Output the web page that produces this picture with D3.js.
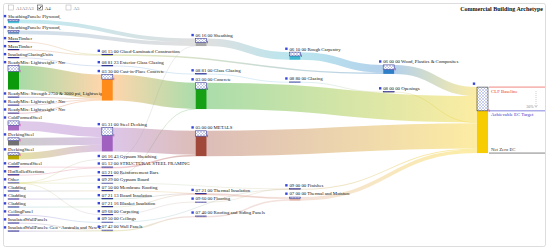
<!DOCTYPE html>
<html>
<head>
<meta charset="utf-8">
<script src="https://cdn.jsdelivr.net/npm/d3@7"></script>
<style>
  body { margin: 0; background: #fff; }
  svg { display: block; font-family: "Liberation Serif", "Times New Roman", serif; }
</style>
</head>
<body>
<svg width="550" height="252"></svg>
<script>
// ---- Data
const title = "Commercial Building Archetype";
const stageLabels = ["A1A2A3", "A4", "A5"];
const stageChecked = [false, true, false];
const targetLabels = ["CLF Baseline", "Achievable EC Target", "Net Zero EC"];
const reductionLabel = "30%";

const nodeNames = [
  "SheathingPanels: Plywood,", "SheathingPanels: Plywood,", "MassTimber", "MassTimber",
  "InsulatingGlazingUnits", "ReadyMix: Lightweight - Nrc", "ReadyMix: Strength 2750 & 3000 psi, Lightweig",
  "ReadyMix: Lightweight - Nrc", "ReadyMix: Lightweight - Nrc", "ColdFormedSteel", "DeckingSteel",
  "DeckingSteel", "ColdFormedSteel", "HotRolledSections", "Other", "Cladding", "Cladding", "Cladding",
  "CeilingPanel", "InsulatedWallPanels", "InsulatedWallPanels: Geo - Australia and New Z",
  "06 15 00 Glued-Laminated Construction", "08 81 23 Exterior Glass Glazing", "03 30 00 Cast-in-Place Concrete",
  "05 31 00 Steel Decking", "06 16 43 Gypsum Sheathing", "05 12 00 STRUCTURAL STEEL FRAMING",
  "03 21 00 Reinforcement Bars", "09 29 00 Gypsum Board", "07 50 00 Membrane Roofing",
  "07 21 13 Board Insulation", "07 21 16 Blanket Insulation", "09 68 00 Carpeting", "09 50 00 Ceilings",
  "07 42 00 Wall Panels",
  "06 16 00 Sheathing", "08 81 00 Glass Glazing", "03 00 00 Concrete", "05 00 00 METALS",
  "07 21 00 Thermal Insulation", "09 60 00 Flooring", "07 40 00 Roofing and Siding Panels",
  "06 10 00 Rough Carpentry", "08 80 00 Glazing", "09 00 00 Finishes", "07 00 00 Thermal and Moisture",
  "06 00 00 Wood, Plastics & Composites", "08 00 00 Openings",
  ""
];
const nodeColumns = [
  0, 0, 0, 0, 0, 0, 0, 0, 0, 0, 0, 0, 0, 0, 0, 0, 0, 0, 0, 0, 0,
  1, 1, 1, 1, 1, 1, 1, 1, 1, 1, 1, 1, 1, 1,
  2, 2, 2, 2, 2, 2, 2,
  3, 3, 3, 3,
  4, 4,
  5
];
const nodeColors = [
  "#4cc3d6", "#7da6c8", "#e27a62", "#d9574f", "#8a8ac8", "#0b9a0b", "#1e2a8a", "#7a4fa0", "#8b1a4a",
  "#a66cc4", "#707070", "#b5a800", "#d06080", "#c05070", "#c8c830", "#4f6fc0", "#8040c0", "#50a0c0",
  "#7040b0", "#6050b0", "#5040a0",
  "#b8c040", "#5a8fd0", "#ff8c1a", "#a060c0", "#a0a0a0", "#e07090", "#d09090", "#90c090", "#e0b050",
  "#50b890", "#a0cc70", "#b090d0", "#70b8d8", "#c8c870",
  "#a8a8a8", "#6ab0d8", "#15a015", "#a0483a", "#d08080", "#c0a070", "#d0a0a0",
  "#3fb8d0", "#70c0d8", "#c8b080", "#e0b0a0",
  "#2f7fc8", "#c8c060",
  "#f7cc00"
];
// share of each node drawn hatched (reduction)
const nodeHatch = [
  0.4, 0.4, 0.4, 0.4, 0.4, 0.24, 0.4, 0.4, 0.4, 0.45, 0.35, 0.35, 0.4, 0.4, 0.4, 0.4, 0.4, 0.4, 0.4, 0.4, 0.4,
  0.4, 0.4, 0.18, 0.33, 0.4, 0.4, 0.4, 0.4, 0.4, 0.4, 0.4, 0.4, 0.4, 0.4,
  0.5, 0.4, 0.24, 0.21, 0.4, 0.4, 0.4,
  0.5, 0.4, 0.4, 0.4,
  0.5, 0.4,
  0.36
];

const linkSources = [
  0, 1, 2, 3, 4, 5, 6, 7, 8, 9, 10, 11, 12, 13, 14, 14, 14, 14, 15, 16, 17, 18, 19, 20,
  21, 22, 23, 24, 25, 26, 27, 28, 29, 30, 31, 32, 33, 34,
  35, 36, 37, 38, 39, 40, 41,
  42, 43, 44, 45,
  46, 47
];
const linkTargets = [
  35, 35, 21, 21, 22, 23, 23, 23, 23, 24, 24, 24, 26, 26, 25, 27, 28, 32, 29, 30, 31, 33, 34, 34,
  46, 36, 37, 38, 35, 38, 37, 44, 45, 39, 39, 40, 44, 41,
  42, 43, 48, 48, 45, 44, 45,
  46, 47, 48, 48,
  48, 48
];
const linkValues = [
  3.4, 3.4, 0.65, 0.65, 0.65, 22, 0.65, 0.65, 0.65, 8.8, 7, 6.1, 0.65, 0.65, 0.16, 0.16, 0.16, 0.17, 0.65, 0.65, 0.65, 0.65, 0.65, 0.65,
  1.3, 0.65, 23.95, 21.9, 0.16, 1.3, 0.16, 0.16, 0.65, 0.65, 0.65, 0.17, 0.65, 1.3,
  6.96, 0.65, 24.1, 23.2, 1.3, 0.17, 1.3,
  6.96, 0.65, 0.98, 3.25,
  8.26, 0.65
];

// ---- Layout (sankey relaxation, nodes kept in input order)
const extent = { top: 19.5, bottom: 231.5 };
const nodeWidth = 11, gap = 7.3, iterations = 32;

const nodes = nodeNames.map((name, i) => ({
  index: i, name, column: nodeColumns[i], color: nodeColors[i], hatch: nodeHatch[i],
  sourceLinks: [], targetLinks: []
}));
const links = linkValues.map((v, i) => ({ source: nodes[linkSources[i]], target: nodes[linkTargets[i]], value: v }));
links.forEach(l => { l.source.sourceLinks.push(l); l.target.targetLinks.push(l); });
nodes.forEach(n => n.value = Math.max(d3.sum(n.sourceLinks, l => l.value), d3.sum(n.targetLinks, l => l.value)));

const x = d3.scalePoint().domain(d3.range(6)).range([8, 477]);
nodes.forEach(n => { n.x0 = x(n.column); n.x1 = n.x0 + nodeWidth; });

const columns = d3.groups(nodes, n => n.column).sort((a, b) => a[0] - b[0]).map(d => d[1]);
const ky = d3.min(columns, c => (extent.bottom - extent.top - (c.length - 1) * gap) / d3.sum(c, n => n.value));
const size = d3.scaleLinear().domain([0, 1]).range([0, ky]);
nodes.forEach(n => { n.dy = size(n.value); n.y0 = extent.top; });
links.forEach(l => l.width = size(l.value));

const centre = n => n.y0 + n.dy / 2;
function resolveCollisions() {
  for (const col of columns) {
    let y = extent.top, last;
    for (const n of col) {
      if (y - n.y0 > 0) n.y0 = y;
      y = n.y0 + n.dy + gap;
      last = n;
    }
    let over = y - gap - extent.bottom;
    if (over > 0) {
      last.y0 -= over;
      y = last.y0;
      for (let i = col.length - 2; i >= 0; --i) {
        const n = col[i];
        over = n.y0 + n.dy + gap - y;
        if (over > 0) n.y0 -= over;
        y = n.y0;
      }
    }
  }
}
// move each node toward the centre of its targets (right-to-left) or sources (left-to-right),
// weighted by value times the number of columns the link spans
function relaxRightToLeft(alpha) {
  for (const col of columns.slice().reverse()) {
    for (const n of col) {
      if (!n.sourceLinks.length) continue;
      let s = 0, w = 0;
      for (const l of n.sourceLinks) { const k = l.value * (l.target.column - n.column); s += centre(l.target) * k; w += k; }
      n.y0 += (s / w - centre(n)) * alpha;
    }
  }
}
function relaxLeftToRight(alpha) {
  for (const col of columns) {
    for (const n of col) {
      if (!n.targetLinks.length) continue;
      let s = 0, w = 0;
      for (const l of n.targetLinks) { const k = l.value * (n.column - l.source.column); s += centre(l.source) * k; w += k; }
      n.y0 += (s / w - centre(n)) * alpha;
    }
  }
}
resolveCollisions();
for (let k = 0, alpha = 1; k < iterations; ++k) {
  alpha *= 0.99;
  relaxRightToLeft(alpha);
  resolveCollisions();
  relaxLeftToRight(alpha);
  resolveCollisions();
}
nodes.forEach(n => n.y1 = n.y0 + n.dy);
for (const n of nodes) {
  n.sourceLinks.sort((a, b) => a.target.y0 - b.target.y0);
  n.targetLinks.sort((a, b) => a.source.y0 - b.source.y0);
  let a = n.y0, b = n.y0;
  for (const l of n.sourceLinks) { l.y0 = a + l.width / 2; a += l.width; }
  for (const l of n.targetLinks) { l.y1 = b + l.width / 2; b += l.width; }
}

// ---- Drawing
const svg = d3.select('svg');
const defs = svg.append('defs');

const pat = defs.append('pattern').attr('id', 'hatch')
  .attr('patternUnits', 'userSpaceOnUse').attr('width', 3).attr('height', 3);
pat.append('rect').attr('width', 3).attr('height', 3).attr('fill', '#fff');
pat.append('path').attr('d', 'M0,0L3,3M3,0L0,3').attr('stroke', '#8d9bd6').attr('stroke-width', 0.45);

// frame
svg.append('rect').attr('x', 3.5).attr('y', 3.5).attr('width', 542).attr('height', 243)
  .attr('rx', 2).attr('fill', 'none').attr('stroke', '#d4d4d4').attr('stroke-width', 0.8);

// legend
const lx = d3.scalePoint().domain(stageLabels).range([8.5, 66]);
const legend = svg.append('g').selectAll('g').data(stageLabels).join('g')
  .attr('transform', d => `translate(${lx(d)},5)`);
legend.append('rect').attr('width', 5).attr('height', 5).attr('fill', '#fff')
  .attr('stroke', (d, i) => stageChecked[i] ? '#333' : '#aaa').attr('stroke-width', 0.5);
legend.filter((d, i) => stageChecked[i]).append('path')
  .attr('d', 'M1,2.6L2.2,3.9L4.2,1.1').attr('fill', 'none').attr('stroke', '#222').attr('stroke-width', 0.9);
legend.append('text').attr('x', 7.5).attr('y', 4.6).attr('font-size', 4.8)
  .attr('fill', (d, i) => stageChecked[i] ? '#333' : '#777').text(d => d);

// title
svg.append('text').attr('x', 543).attr('y', 11).attr('text-anchor', 'end')
  .attr('font-size', 6).attr('font-weight', 'bold').attr('fill', '#111').text(title);

// links
const grad = defs.selectAll('linearGradient').data(links).join('linearGradient')
  .attr('id', (d, i) => 'lg' + i).attr('gradientUnits', 'userSpaceOnUse')
  .attr('x1', d => d.source.x1).attr('x2', d => d.target.x0).attr('y1', 0).attr('y2', 0);
grad.append('stop').attr('offset', '0%').attr('stop-color', d => d.source.color);
grad.append('stop').attr('offset', '100%').attr('stop-color', d => d.target.color);

svg.append('g').attr('fill', 'none').attr('stroke-opacity', 0.36)
  .selectAll('path').data(links).join('path')
  .attr('d', d3.linkHorizontal().source(d => [d.source.x1, d.y0]).target(d => [d.target.x0, d.y1]))
  .attr('stroke', (d, i) => `url(#lg${i})`)
  .attr('stroke-width', d => Math.max(0.6, d.width));

// labels
svg.append('g').attr('font-size', 4.8).attr('fill', '#111')
  .selectAll('text').data(nodes.filter(n => n.name)).join('text')
  .attr('x', d => d.x0).attr('y', d => d.y0 - 1.6).text(d => d.name);

// node glyphs: hatched reduction on top, solid below
const glyph = svg.append('g').selectAll('g').data(nodes).join('g');
glyph.append('rect').attr('x', d => d.x0).attr('width', nodeWidth)
  .attr('y', d => d.y0 + (d.y1 - d.y0) * d.hatch).attr('height', d => (d.y1 - d.y0) * (1 - d.hatch))
  .attr('fill', d => d.color);
glyph.append('rect').attr('x', d => d.x0).attr('width', nodeWidth)
  .attr('y', d => d.y0).attr('height', d => Math.max(0.3, (d.y1 - d.y0) * d.hatch))
  .attr('fill', 'url(#hatch)').attr('stroke', d => d.column === 5 ? '#222' : '#2e2e90').attr('stroke-width', 0.55);
glyph.filter(d => d.y1 - d.y0 > 4).append('rect')
  .attr('x', d => d.x1 + 0.6).attr('y', d => d.y0 + (d.y1 - d.y0) * d.hatch - 1.4)
  .attr('width', 0.8).attr('height', 2.4).attr('fill', '#d63aa8');
// markers
svg.append('g').selectAll('rect').data(nodes).join('rect')
  .attr('x', d => d.x0 - 4.2).attr('y', d => d.y0 - 4.6).attr('width', 2.4).attr('height', 2.4)
  .attr('fill', '#3646d8');

// target annotations on the last node
const fin = nodes[nodes.length - 1];
const cut = fin.y0 + (fin.y1 - fin.y0) * fin.hatch;
const levels = [fin.y0, cut, fin.y1];
const levelColors = ['#e8342c', '#3434c8', '#333'];
const ann = svg.append('g');
ann.selectAll('line').data(levels).join('line')
  .attr('x1', fin.x1 + 1).attr('x2', 545).attr('y1', d => d).attr('y2', d => d)
  .attr('stroke', (d, i) => levelColors[i]).attr('stroke-width', 0.6);
ann.selectAll('text').data(targetLabels).join('text')
  .attr('x', fin.x1 + 3).attr('font-size', 4.8)
  .attr('y', (d, i) => i === 2 ? levels[i] - 2.2 : levels[i] + 5.6)
  .attr('fill', (d, i) => levelColors[i]).text(d => d);
ann.append('line').attr('x1', 536).attr('x2', 536).attr('y1', fin.y0 + 4).attr('y2', cut - 4)
  .attr('stroke', '#999').attr('stroke-width', 0.5).attr('stroke-dasharray', '1,1');
ann.append('path').attr('d', `M534.6,${cut - 5.5}L536,${cut - 3.5}L537.4,${cut - 5.5}`)
  .attr('fill', 'none').attr('stroke', '#999').attr('stroke-width', 0.5);
ann.append('text').attr('x', 533.5).attr('y', cut - 3).attr('text-anchor', 'end')
  .attr('font-size', 4).attr('fill', '#888').text(reductionLabel);
</script>
</body>
</html>
